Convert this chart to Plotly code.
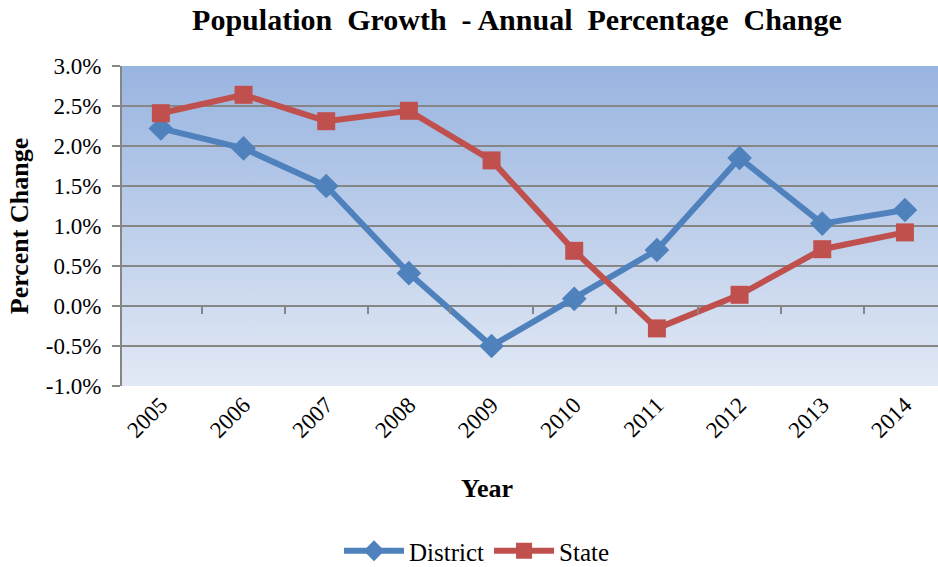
import plotly.graph_objects as go
import urllib.parse

years = ["2005", "2006", "2007", "2008", "2009", "2010", "2011", "2012", "2013", "2014"]
district = [2.22, 1.97, 1.50, 0.41, -0.50, 0.09, 0.70, 1.85, 1.03, 1.20]
state = [2.41, 2.64, 2.31, 2.44, 1.82, 0.69, -0.28, 0.14, 0.71, 0.92]
y_ticks = [-1.0, -0.5, 0.0, 0.5, 1.0, 1.5, 2.0, 2.5, 3.0]
y_labels = ["-1.0%", "-0.5%", "0.0%", "0.5%", "1.0%", "1.5%", "2.0%", "2.5%", "3.0%"]

xpos = list(range(len(years)))
xrange_ = [-0.47, 9.4]
serif = "Liberation Serif, Times New Roman, serif"
grid = "rgb(134,134,134)"

# vertical gradient for the plot area (svg data uri, drawn under the grid)
svg = ('<svg xmlns="http://www.w3.org/2000/svg" width="10" height="100" preserveAspectRatio="none">'
       '<defs><linearGradient id="g" x1="0" y1="0" x2="0" y2="1">'
       '<stop offset="0" stop-color="#98b4e0"/><stop offset="1" stop-color="#e2e9f5"/>'
       '</linearGradient></defs><rect width="10" height="100" fill="url(#g)"/></svg>')
bg_src = "data:image/svg+xml;charset=utf-8," + urllib.parse.quote(svg)

fig = go.Figure()
fig.add_trace(go.Scatter(
    x=xpos, y=district, name="District", mode="lines+markers",
    line=dict(color="#4f81bd", width=6),
    marker=dict(symbol="diamond", size=19, color="#4f81bd"),
))
fig.add_trace(go.Scatter(
    x=xpos, y=state, name="State", mode="lines+markers",
    line=dict(color="#c0504d", width=6),
    marker=dict(symbol="square", size=18, color="#c0504d"),
))

fig.update_layout(
    width=938, height=567,
    margin=dict(l=122, r=0, t=66, b=181, autoexpand=False),
    paper_bgcolor="white",
    plot_bgcolor="rgba(0,0,0,0)",
    font=dict(family=serif, color="black", size=23),
    title=dict(
        text="<b>Population  Growth  - Annual  Percentage  Change</b>",
        font=dict(family=serif, size=30, color="black"),
        x=517 / 938, xanchor="center", xref="container",
        y=1 - 19 / 567, yanchor="middle", yref="container",
    ),
    legend=dict(
        orientation="h", xref="container", yref="container",
        x=477 / 938, xanchor="center", y=1 - 551 / 567, yanchor="middle",
        font=dict(family=serif, size=25), itemwidth=60,
    ),
    images=[dict(source=bg_src, xref="paper", yref="paper", x=0, y=1,
                 sizex=1, sizey=1, xanchor="left", yanchor="top",
                 sizing="stretch", layer="below")],
    # x axis title sits a little left of the plot centre in the original
    annotations=[dict(text="<b>Year</b>", xref="paper", yref="paper",
                      x=(487 - 122) / 816, y=(386 - 488) / 320,
                      xanchor="center", yanchor="middle", showarrow=False,
                      font=dict(family=serif, size=26))],
)

fig.update_xaxes(
    range=xrange_, automargin=False,
    tickvals=xpos, ticktext=years, tickangle=-45,
    showgrid=False, zeroline=False, showline=False, ticks="",
    tickfont=dict(family=serif, size=23),
)
fig.update_yaxes(
    range=[-1.0, 3.0], automargin=False,
    tickvals=y_ticks, ticktext=y_labels,
    showgrid=True, gridcolor=grid, gridwidth=2,
    zeroline=False, showline=True, linecolor=grid, linewidth=2,
    ticks="outside", ticklen=8, tickcolor=grid, tickwidth=2,
    ticklabelstandoff=6,
    tickfont=dict(family=serif, size=23),
    title=dict(text="<b>Percent Change</b>", font=dict(family=serif, size=26), standoff=10),
)

# tick marks on the zero line between categories
fig.update_layout(xaxis2=dict(
    overlaying="x", anchor="free", position=0.25, range=xrange_,
    tickvals=[i + 0.5 for i in xpos[:-1]], ticks="outside", ticklen=7,
    tickcolor=grid, tickwidth=2, showticklabels=False,
    showgrid=False, zeroline=False, showline=False,
))
fig.add_trace(go.Scatter(x=[None], y=[None], xaxis="x2", showlegend=False, hoverinfo="skip"))

# drop the default page margin so the figure fills the window
fig.write_html("out.html", config={"displayModeBar": False},
               post_script="document.body.style.margin='0';")
